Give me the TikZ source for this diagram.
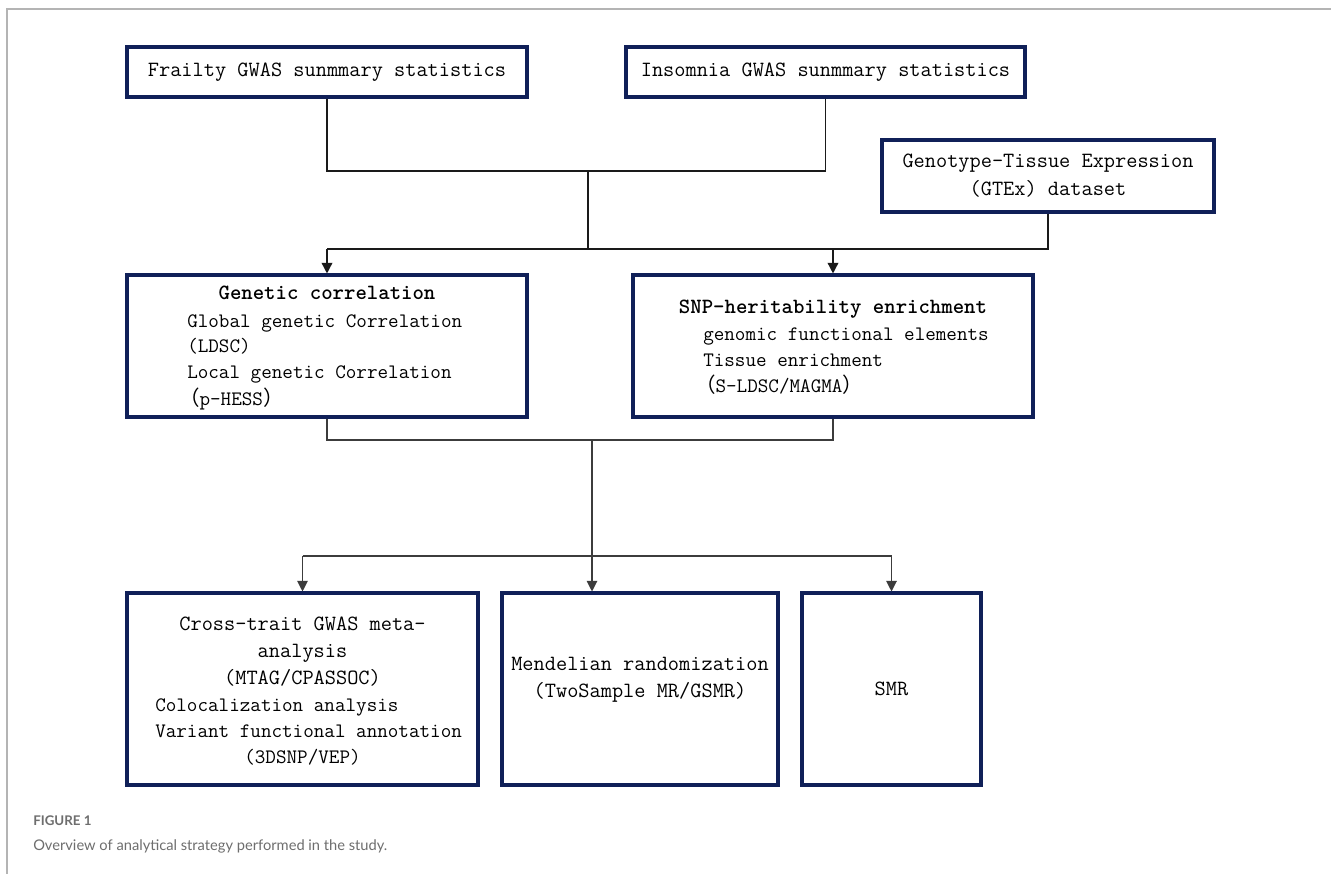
\documentclass[tikz,border=0pt]{standalone}
\usepackage{fontspec}
\newfontfamily\cjkfont{Noto Sans CJK SC}
\newfontfamily\capfont{Lato}
\usepackage{tikz}
\usetikzlibrary{arrows.meta,positioning,calc}
\definecolor{boxnavy}{HTML}{102058}
\definecolor{linkdark}{HTML}{1A1A1A}
\definecolor{framegray}{HTML}{B4B4B4}
\definecolor{capgray}{HTML}{6E6E6E}
\newcommand\fwl{{\cjkfont\hspace{-0.4em}（}}
\newcommand\fwr{{\cjkfont ）}}
\tikzset{
  box/.style={draw=boxnavy, line width=2.3pt, inner sep=0pt, align=center,
    font=\ttfamily\fontsize{16.3}{21}\selectfont},
  headtxt/.style={font=\ttfamily\fontsize{16.3}{19}\selectfont, inner sep=0pt},
  headbold/.style={font=\ttfamily\bfseries\fontsize{16.3}{19}\selectfont, inner sep=0pt},
  bodytxt/.style={font=\ttfamily\fontsize{15.4}{18}\selectfont, inner sep=0pt},
  link/.style={line width=1.1pt, color=linkdark},
  thinlink/.style={line width=0.8pt, color=linkdark!85},
  arr/.style={-{Triangle[length=8pt,width=8pt]}},
  capt/.style={font=\capfont\fontsize{10.5}{12}\selectfont, text=capgray, inner sep=0pt},
}
\begin{document}
\begin{tikzpicture}[x=0.75pt,y=-0.75pt]
  \fill[white] (0,0) rectangle (1331,874);
  \useasboundingbox (0,0) rectangle (1331,874);
  \draw[framegray, line width=1.2pt] (7,874) -- (7,9) -- (1331,9);

  % input data
  \node[box, minimum width=300pt, minimum height=37.5pt] (frailty) at (327,72) {Frailty GWAS sunmmary statistics};
  \node[box, minimum width=299.25pt, minimum height=37.5pt] (insomnia) at (825.5,72) {Insomnia GWAS sunmmary statistics};
  \node[box, minimum width=249pt, minimum height=54pt] (gtex) at (1048,176) {Genotype-Tissue Expression\\(GTEx) dataset};

  % second level
  \node[box, minimum width=300pt, minimum height=106.5pt] (gencor) at (327,346) {};
  \node[headbold, anchor=base] (gencor-h) at (327,299) {Genetic correlation};
  \foreach \i/\yy/\txt in {1/327/{Global genetic Correlation}, 2/352/{(LDSC)},
                           3/378/{Local genetic Correlation}, 4/405/{\fwl p-HESS\fwr}}
    \node[bodytxt, anchor=base west] (gencor-\i) at (187,\yy) {\txt};

  \node[box, minimum width=300pt, minimum height=106.5pt] (snp) at (833,346) {};
  \node[headbold, anchor=base] (snp-h) at (833,313) {SNP-heritability enrichment};
  \foreach \i/\yy/\txt in {1/340/{genomic functional elements}, 2/366/{Tissue enrichment},
                           3/392/{\fwl S-LDSC/MAGMA\fwr}}
    \node[bodytxt, anchor=base west] (snp-\i) at (703,\yy) {\txt};

  % third level
  \node[box, minimum width=263.25pt, minimum height=144pt] (cross) at (302.5,689) {};
  \foreach \i/\yy/\txt in {1/630/{Cross-trait GWAS meta-}, 2/657/{analysis}, 3/684/{(MTAG/CPASSOC)}}
    \node[headtxt, anchor=base] (cross-h\i) at (302.5,\yy) {\txt};
  \foreach \i/\yy/\txt in {1/711/{Colocalization analysis}, 2/737/{Variant functional annotation}}
    \node[bodytxt, anchor=base west] (cross-\i) at (155,\yy) {\txt};
  \node[bodytxt, anchor=base] (cross-3) at (302.5,763) {(3DSNP/VEP)};

  \node[box, minimum width=207pt, minimum height=144pt] (mr) at (640,689) {};
  \node[headtxt, anchor=base] (mr-1) at (640,670) {Mendelian randomization};
  \node[headtxt, anchor=base] (mr-2) at (640,697) {(TwoSample MR/GSMR)};

  \node[box, minimum width=134.25pt, minimum height=144pt] (smr) at (891.5,689) {SMR};

  % connectors
  \coordinate (j1) at (588,171);
  \coordinate (j2) at (588,249);
  \coordinate (j3) at (592,440);
  \coordinate (j4) at (592,556);
  \draw[link] (frailty.south) -- (frailty.south |- j1) -- (insomnia.south |- j1) -- (insomnia.south);
  \draw[link] (j1) -- (j2);
  \draw[link] (gencor.north |- j2) -- (gtex.south |- j2) -- (gtex.south);
  \draw[link, arr] (gencor.north |- j2) -- (gencor.north);
  \draw[link, arr] (snp.north |- j2) -- (snp.north);

  \draw[thinlink] (gencor.south) -- (gencor.south |- j3) -- (snp.south |- j3) -- (snp.south);
  \draw[thinlink] (j3) -- (j4);
  \draw[thinlink] (cross.north |- j4) -- (smr.north |- j4);
  \draw[thinlink, arr] (cross.north |- j4) -- (cross.north);
  \draw[thinlink, arr] (j4) -- (j4 |- mr.north);
  \draw[thinlink, arr] (smr.north |- j4) -- (smr.north);

  % caption
  \node[capt, font=\capfont\bfseries\fontsize{10}{11}\selectfont, anchor=base west] (figlab) at (33,825) {FIGURE 1};
  \node[capt, font=\capfont\fontsize{11}{13}\selectfont, anchor=base west] (figcap) at (33,850) {Overview of analytical strategy performed in the study.};
\end{tikzpicture}
\end{document}
